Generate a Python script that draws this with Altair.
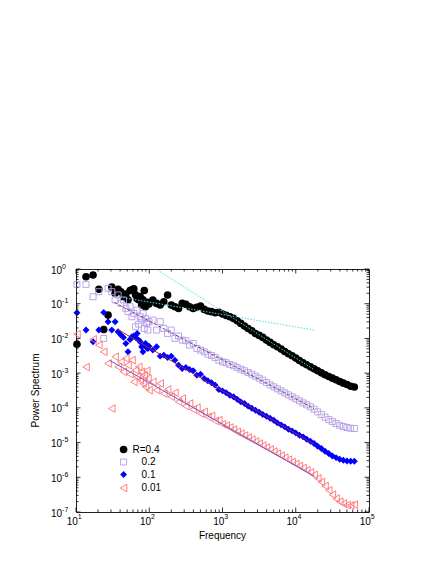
import altair as alt
import pandas as pd

# ---------------- data ----------------
freq = [10.3, 13.7, 17.1, 20.5, 23.9, 27.4, 30.8, 34.2, 37.6, 41.0, 44.5, 47.9, 51.3, 54.7,
        58.1, 61.6, 65.0, 68.4, 71.8, 75.2, 78.7, 82.1, 85.5, 88.9, 92.3, 95.8, 99.2,
        112, 126, 141, 158, 178, 200, 224, 251, 282, 316, 355, 398, 447, 501, 562, 631, 708, 794, 891,
        1000, 1122, 1259, 1413, 1585, 1778, 1995, 2239, 2512, 2818, 3162, 3548, 3981, 4467, 5012,
        5623, 6310, 7079, 7943, 8913,
        10000, 11220, 12589, 14125, 15849, 17783, 19953, 22387, 25119, 28184, 31623, 35481, 39811,
        44668, 50119, 56234, 63096]

power_r04 = [0.0068, 0.60, 0.67, 0.26, 0.018, 0.047, 0.30, 0.20, 0.26, 0.22, 0.16, 0.19, 0.13, 0.24,
             0.25, 0.27, 0.18, 0.14, 0.13, 0.16, 0.092, 0.13, 0.24, 0.082, 0.10, 0.11, 0.098,
             0.128, 0.102, 0.0916, 0.114, 0.178, 0.0916, 0.0817, 0.0732, 0.102, 0.0957, 0.0817, 0.0732,
             0.0785, 0.0858, 0.0686, 0.0615, 0.059, 0.055, 0.057,
             0.0504, 0.0461, 0.0422, 0.0378, 0.0323, 0.0271, 0.0227, 0.0194, 0.0166, 0.0139, 0.0122,
             0.0107, 0.00895, 0.00767, 0.00657, 0.00575, 0.00492, 0.00422, 0.00361, 0.00316,
             0.00271, 0.00232, 0.00199, 0.00174, 0.00152, 0.00133, 0.00117, 0.00102, 8.95e-4, 8.02e-4,
             7.18e-4, 6.43e-4, 5.75e-4, 5.15e-4, 4.71e-4, 4.2e-4, 4.0e-4]

power_r02 = [0.361, 0.361, 0.159, 0.222, 0.010, 0.277, 0.222, 0.128, 0.178, 0.102, 0.128, 0.0735, 0.0589,
             0.0817, 0.0422, 0.0527, 0.0217, 0.0657, 0.0258, 0.0422, 0.0338, 0.0527, 0.0194, 0.0378,
             0.0271, 0.0174, 0.0303,
             0.0338, 0.0174, 0.0303, 0.0194, 0.0139, 0.0174, 0.0100, 0.0117, 0.00895, 0.00857, 0.00642,
             0.00718, 0.00515, 0.00461, 0.00412, 0.00353, 0.00323, 0.00283, 0.00237,
             0.00212, 0.00199, 0.00178, 0.00163, 0.00146, 0.00130, 0.00117, 0.00104, 9.35e-4, 8.19e-4,
             7.18e-4, 6.28e-4, 5.38e-4, 4.60e-4, 4.03e-4, 3.53e-4, 3.09e-4, 2.71e-4, 2.37e-4, 2.08e-4,
             1.82e-4, 1.59e-4, 1.39e-4, 1.22e-4, 1.07e-4, 9.16e-5, 7.67e-5, 6.43e-5, 5.38e-5, 4.60e-5,
             4.03e-5, 3.53e-5, 3.16e-5, 2.90e-5, 2.71e-5, 2.59e-5, 2.54e-5]

power_r01 = [0.055, 0.0174, 0.0080, 0.0174, 0.0562, 0.0303, 0.0174, 0.0303, 0.0156, 0.0125, 0.0107,
             0.00718, 0.00412, 0.00935, 0.0112, 0.0117, 0.0107, 0.0139, 0.00895, 0.0080, 0.00575,
             0.00412, 0.00642, 0.00718, 0.0055, 0.00515, 0.0060,
             0.00461, 0.00575, 0.00309, 0.00330, 0.00283, 0.00309, 0.00237, 0.00170, 0.00136, 0.00146,
             0.00128, 0.00117, 8.75e-4, 9.35e-4, 7.02e-4, 6.01e-4, 5.26e-4, 4.51e-4, 3.38e-4,
             3.09e-4, 2.71e-4, 2.32e-4, 2.08e-4, 1.78e-4, 1.49e-4, 1.33e-4, 1.12e-4, 9.78e-5, 8.57e-5,
             7.50e-5, 6.43e-5, 5.75e-5, 5.04e-5, 4.41e-5, 3.69e-5, 3.24e-5, 2.83e-5, 2.43e-5, 2.17e-5,
             1.90e-5, 1.63e-5, 1.46e-5, 1.25e-5, 1.09e-5, 9.35e-6, 7.83e-6, 6.71e-6, 5.62e-6, 4.82e-6,
             4.12e-6, 3.69e-6, 3.31e-6, 3.09e-6, 2.96e-6, 2.90e-6, 2.90e-6]

power_r001 = [0.0133, 0.0015, 0.00935, 0.00642, 0.00412, 0.0019, 9.57e-5, 0.00296, 0.00152, 0.00212,
              0.00109, 0.00265, 0.0017, 9.35e-4, 0.00237, 5.62e-4, 0.00122, 7.84e-4, 0.00152, 6.28e-4,
              0.00109, 5.04e-4, 8.75e-4, 4.03e-4, 0.00117, 7.02e-4, 3.24e-4,
              5.62e-4, 3.24e-4, 5.04e-4, 2.59e-4, 3.38e-4, 2.08e-4, 2.71e-4, 1.49e-4, 1.86e-4, 1.12e-4,
              1.33e-4, 8.95e-5, 1.02e-4, 6.87e-5, 7.67e-5, 5.50e-5, 5.87e-5, 4.22e-5, 4.41e-5,
              3.38e-5, 3.09e-5, 2.71e-5, 2.37e-5, 2.03e-5, 1.82e-5, 1.59e-5, 1.39e-5, 1.22e-5, 1.07e-5,
              9.35e-6, 8.19e-6, 7.18e-6, 6.28e-6, 5.50e-6, 4.82e-6, 4.22e-6, 3.69e-6, 3.24e-6, 2.77e-6,
              2.43e-6, 2.12e-6, 1.86e-6, 1.59e-6, 1.39e-6, 1.17e-6, 9.35e-7, 7.33e-7, 5.62e-7, 4.22e-7,
              3.16e-7, 2.43e-7, 1.99e-7, 1.74e-7, 1.59e-7, 1.56e-7, 1.63e-7]

legend_labels = ["R=0.4", "0.2", "0.1", "0.01"]

# fitted power-law lines: start / end (frequency, power)
fit_names = ["steep04", "shallow04", "fit02", "fit01", "fit001"]
fit_f0 = [33.3, 33.3, 33.3, 37.0, 28.5]
fit_p0 = [5.8, 0.166, 0.109, 0.0182, 2.36e-3]
fit_f1 = [17783, 17783, 17783, 17783, 17783]
fit_p1 = [1.26e-3, 0.0174, 9.57e-5, 8.95e-6, 1.08e-6]

x_major = [10, 100, 1000, 10000, 100000]
x_exp = ["1", "2", "3", "4", "5"]
y_major = [1e-7, 1e-6, 1e-5, 1e-4, 1e-3, 1e-2, 1e-1, 1]
y_exp = ["-7", "-6", "-5", "-4", "-3", "-2", "-1", "0"]

# ---------------- layout / style ----------------
W, H = 293, 243
FONT = "Liberation Sans"
xs = alt.Scale(type="log", domain=[10, 1e5], nice=False)
ys = alt.Scale(type="log", domain=[1e-7, 1], nice=False)

series_style = [
    dict(p=power_r04, shape="circle", size=58, filled=True, color="#000000"),
    dict(p=power_r02, shape="square", size=36, filled=False, color="#b39ce6"),
    dict(p=power_r01, shape="diamond", size=48, filled=True, color="#0000ff"),
    dict(p=power_r001, shape="M0.86,-1L-0.86,0L0.86,1Z", size=58, filled=False, color="#ff6f6f"),
]
fit_style = [
    dict(color="#3fe3e3", dash=[1.5, 1.5], clip=True),
    dict(color="#3fe3e3", dash=[1.5, 1.5], clip=True),
    dict(color="#7a3a6a", dash=[3, 2], clip=True),
    dict(color="#a8203a", dash=None, clip=True),
    dict(color="#6f55d8", dash=None, clip=True),
]
legend_y = [180.5, 193, 205.5, 219]
legend_sym_x = 47.6
legend_txt_x = [56.5, 65.6, 65.6, 65.6]

layers = []

# data points
for st in series_style:
    df = pd.DataFrame({"f": freq, "p": st["p"]})
    kw = dict(shape=st["shape"], size=st["size"], filled=st["filled"], opacity=1)
    if st["filled"]:
        kw.update(fill=st["color"], strokeWidth=0)
    else:
        kw.update(stroke=st["color"], strokeWidth=0.9, fillOpacity=0)
    layers.append(
        alt.Chart(df).mark_point(**kw).encode(
            x=alt.X("f:Q", scale=xs, axis=None),
            y=alt.Y("p:Q", scale=ys, axis=None),
        )
    )

# fit lines
for i, st in enumerate(fit_style):
    df = pd.DataFrame({"f": [fit_f0[i], fit_f1[i]], "p": [fit_p0[i], fit_p1[i]],
                       "name": [fit_names[i]] * 2})
    kw = dict(color=st["color"], strokeWidth=1, clip=st["clip"])
    if st["dash"]:
        kw["strokeDash"] = st["dash"]
    layers.append(
        alt.Chart(df).mark_line(**kw).encode(
            x=alt.X("f:Q", scale=xs, axis=None),
            y=alt.Y("p:Q", scale=ys, axis=None),
        )
    )

# inward ticks on all four sides
x_minor = [m * d for d in [10, 100, 1000, 10000] for m in range(2, 10)]
y_minor = [m * d for d in [1e-7, 1e-6, 1e-5, 1e-4, 1e-3, 1e-2, 1e-1] for m in range(2, 10)]


def xticks(vals, length):
    df = pd.DataFrame({"v": vals})
    out = []
    for y0, y1 in [(H, H - length), (0, length)]:
        out.append(alt.Chart(df).mark_rule(color="#000", strokeWidth=0.8).encode(
            x=alt.X("v:Q", scale=xs, axis=None), y=alt.value(y0), y2=alt.value(y1)))
    return out


def yticks(vals, length):
    df = pd.DataFrame({"v": vals})
    out = []
    for x0, x1 in [(0, length), (W, W - length)]:
        out.append(alt.Chart(df).mark_rule(color="#000", strokeWidth=0.8).encode(
            y=alt.Y("v:Q", scale=ys, axis=None), x=alt.value(x0), x2=alt.value(x1)))
    return out


layers += xticks(x_major, 4.5) + xticks(x_minor, 2.5) + yticks(y_major, 4.5) + yticks(y_minor, 2.5)

# tick labels 10^n
xl = pd.DataFrame({"v": x_major, "exp": x_exp, "base": ["10"] * len(x_major)})
layers.append(alt.Chart(xl).mark_text(align="right", baseline="alphabetic", dx=1.8, fontSize=10,
                                      font=FONT, color="#000").encode(
    x=alt.X("v:Q", scale=xs, axis=None), y=alt.value(H + 13.3), text="base:N"))
layers.append(alt.Chart(xl).mark_text(align="left", baseline="alphabetic", dx=1.8, fontSize=7,
                                      font=FONT, color="#000").encode(
    x=alt.X("v:Q", scale=xs, axis=None), y=alt.value(H + 7.2), text="exp:N"))

yl = pd.DataFrame({"v": y_major, "exp": y_exp, "base": ["10"] * len(y_major)})
layers.append(alt.Chart(yl).mark_text(align="left", baseline="alphabetic", dy=4.6, fontSize=10,
                                      font=FONT, color="#000").encode(
    y=alt.Y("v:Q", scale=ys, axis=None), x=alt.value(-25), text="base:N"))
layers.append(alt.Chart(yl).mark_text(align="left", baseline="alphabetic", dy=-0.5, fontSize=7,
                                      font=FONT, color="#000").encode(
    y=alt.Y("v:Q", scale=ys, axis=None), x=alt.value(-13.9), text="exp:N"))

# axis titles
one = pd.DataFrame({"t": ["Frequency"]})
layers.append(alt.Chart(one).mark_text(align="center", baseline="alphabetic", fontSize=10,
                                       font=FONT, color="#000").encode(
    x=alt.value(W / 2), y=alt.value(H + 26.6), text="t:N"))
one_y = pd.DataFrame({"t": ["Power Spectrum"]})
layers.append(alt.Chart(one_y).mark_text(align="center", baseline="middle", fontSize=10, angle=270,
                                         font=FONT, color="#000").encode(
    x=alt.value(-39.7), y=alt.value(H / 2), text="t:N"))

# legend
for i, st in enumerate(series_style):
    ldf = pd.DataFrame({"label": [legend_labels[i]]})
    kw = dict(shape=st["shape"], size=st["size"], filled=st["filled"], opacity=1)
    if st["filled"]:
        kw.update(fill=st["color"], strokeWidth=0)
    else:
        kw.update(stroke=st["color"], strokeWidth=0.9, fillOpacity=0)
    layers.append(alt.Chart(ldf).mark_point(**kw).encode(
        x=alt.value(legend_sym_x), y=alt.value(legend_y[i])))
    layers.append(alt.Chart(ldf).mark_text(align="left", baseline="middle", fontSize=10,
                                           font=FONT, color="#000").encode(
        x=alt.value(legend_txt_x[i]), y=alt.value(legend_y[i]), text="label:N"))

chart = alt.layer(*layers).properties(
    width=W, height=H,
    autosize=alt.AutoSizeParams(type="none"),
    padding={"left": 68, "top": 261, "right": 70, "bottom": 50},
    background="white",
).configure_view(stroke="#222", strokeWidth=1)

chart.save("out.html", embed_options={"renderer": "svg", "actions": False})
